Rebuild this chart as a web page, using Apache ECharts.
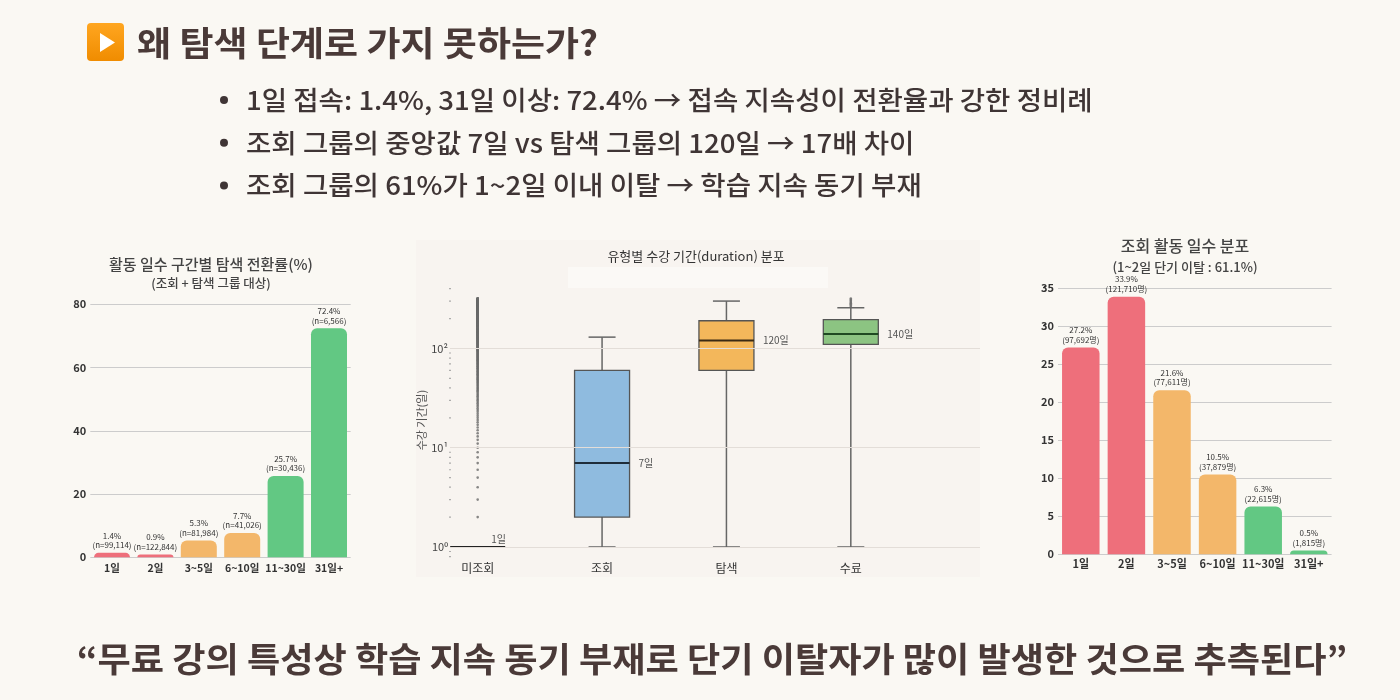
<!DOCTYPE html>
<html><head><meta charset="utf-8">
<script src="https://cdn.jsdelivr.net/npm/echarts@6/dist/echarts.min.js"></script>
<style>html,body{margin:0;padding:0;background:#faf8f3;}#c{width:1400px;height:700px;}</style>
</head><body><div id="c"></div>
<script>
const FONT = '"Noto Sans CJK KR","Noto Sans",sans-serif';

const headline = '왜 탐색 단계로 가지 못하는가?';
const bullets = [
  '1일 접속: 1.4%, 31일 이상: 72.4% → 접속 지속성이 전환율과 강한 정비례',
  '조회 그룹의 중앙값 7일 vs 탐색 그룹의 120일 → 17배 차이',
  '조회 그룹의 61%가 1~2일 이내 이탈 → 학습 지속 동기 부재'
];
const quote = '“무료 강의 특성상 학습 지속 동기 부재로 단기 이탈자가 많이 발생한 것으로 추측된다”';

// left chart
const leftTitle = '활동 일수 구간별 탐색 전환률(%)';
const leftSubtitle = '(조회 + 탐색 그룹 대상)';
const dayBins = ['1일', '2일', '3~5일', '6~10일', '11~30일', '31일+'];
const convRate = [1.4, 0.9, 5.3, 7.7, 25.7, 72.4];
const convN = ['99,114', '122,844', '81,984', '41,026', '30,436', '6,566'];

// right chart
const rightTitle = '조회 활동 일수 분포';
const rightSubtitle = '(1~2일 단기 이탈 : 61.1%)';
const viewShare = [27.2, 33.9, 21.6, 10.5, 6.3, 0.5];
const viewCount = ['97,692', '121,710', '77,611', '37,879', '22,615', '1,815'];

// middle chart
const midTitle = '유형별 수강 기간(duration) 분포';
const midYName = '수강 기간(일)';
const groups = ['미조회', '조회', '탐색', '수료'];
// [min, Q1, median, Q3, max]
const boxStats = [
  [1, 1, 1, 1, 1],
  [1, 2, 7, 60, 130],
  [1, 60, 120, 190, 300],
  [1, 110, 140, 195, 257]
];
const medianLabels = ['1일', '7일', '120일', '140일'];
const noViewOutliers = [
  2,3,4,5,6,7,8,9,10,11,12,13,14,15,16,17,18,19,20,
  21,22,23,24,25,26,27,28,29,30,31,32,33,34,35,36,37,38,39,40,
  41,42,43,44,45,46,47,48,49,50,51,52,53,54,55,56,57,58,59,60,
  61,62,63,64,65,66,67,68,69,70,71,72,73,74,75,76,77,78,79,80,
  81,82,83,84,85,86,87,88,89,90,91,92,93,94,95,96,97,98,99,100,
  101,102,103,104,105,106,107,108,109,110,111,112,113,114,115,116,117,118,119,120,
  121,122,123,124,125,126,127,128,129,130,131,132,133,134,135,136,137,138,139,140,
  141,142,143,144,145,146,147,148,149,150,151,152,153,154,155,156,157,158,159,160,
  161,162,163,164,165,166,167,168,169,170,171,172,173,174,175,176,177,178,179,180,
  181,182,183,184,185,186,187,188,189,190,191,192,193,194,195,196,197,198,199,200,
  201,202,203,204,205,206,207,208,209,210,211,212,213,214,215,216,217,218,219,220,
  221,222,223,224,225,226,227,228,229,230,231,232,233,234,235,236,237,238,239,240,
  241,242,243,244,245,246,247,248,249,250,251,252,253,254,255,256,257,258,259,260,
  261,262,263,264,265,266,267,268,269,270,271,272,273,274,275,276,277,278,279,280,
  281,282,283,284,285,286,287,288,289,290,291,292,293,294,295,296,297,298,299,300,
  301,302,303,304,305,306,307,308,309,310,311,312,313,314,315,316,317,318,319,320
];
const completeOutliers = [262, 270, 278, 286, 294, 302, 310, 318];
const minorLogTicks = [0.8, 0.9, 2, 3, 4, 5, 6, 7, 8, 9, 20, 30, 40, 50, 60, 70, 80, 90, 200, 300, 400];
const majorLogTicks = [1, 10, 100];

// styles
const binColors = ['#ee6f7b', '#ee6f7b', '#f3b76a', '#f3b76a', '#62c883', '#62c883'];
const boxFill = ['#ffffff', '#8fbbdf', '#f3b75b', '#8cc482'];
const medianColor = ['#222222', '#1f2d3a', '#3a2a14', '#1f4a22'];
const TXT = '#4a3a38';

const chart = echarts.init(document.getElementById('c'));

function barSeries(vals, labels, xi) {
  return {
    type: 'bar', xAxisIndex: xi, yAxisIndex: xi,
    data: vals.map((v, i) => ({ value: v, itemStyle: { color: binColors[i] } })),
    barWidth: xi === 0 ? 36 : 37.5,
    itemStyle: { borderRadius: [6, 6, 0, 0] },
    label: {
      show: true, position: 'top', distance: 3,
      formatter: p => '{a|' + vals[p.dataIndex] + '%}\n{a|' + (xi === 0 ? '(n=' + labels[p.dataIndex] + ')' : '(' + labels[p.dataIndex] + '명)') + '}',
      rich: { a: { fontSize: 8, lineHeight: 9.5, color: '#333', fontFamily: FONT, align: 'center' } }
    }
  };
}

function txt(text, x, y, font, fill, align, sx) {
  return { type: 'text', x: x, y: y, scaleX: sx || 1,
    style: { text: text, x: 0, y: 0, font: font, fill: fill, align: align, verticalAlign: 'middle' } };
}

const supMap = { '0': '⁰', '1': '¹', '2': '²', '3': '³' };

const option = {
  backgroundColor: '#faf8f3',
  textStyle: { fontFamily: FONT },
  animation: false,
  graphic: [
    { type: 'rect', shape: { x: 416, y: 240, width: 564, height: 337 }, style: { fill: '#f8f4f0' }, z: -10 },
    { type: 'rect', shape: { x: 568, y: 267, width: 260, height: 21 }, style: { fill: '#fbf9f6' }, z: -9 },
    { type: 'rect', shape: { x: 87, y: 23, width: 37, height: 38, r: 4 },
      style: { fill: new echarts.graphic.LinearGradient(0, 0, 0, 1, [{ offset: 0, color: '#ffa620' }, { offset: 1, color: '#f08c00' }]) } },
    { type: 'polygon', shape: { points: [[100, 33], [100, 52], [115, 42.5]] }, style: { fill: '#ffffff' } },
    txt(headline, 137, 43, 'bold 34px ' + FONT, TXT, 'left', 1.088),
    ...bullets.flatMap((b, i) => [
      { type: 'circle', shape: { cx: 224, cy: 100 + i * 42.8, r: 4 }, style: { fill: '#3f3535' } },
      txt(b, 246, 100 + i * 42.8, '500 26px ' + FONT, '#3f3535', 'left', 1.06)
    ]),
    txt(quote, 712, 659, 'bold 34px ' + FONT, TXT, 'center', 1.063),
    txt(leftTitle, 211, 264, '500 15px ' + FONT, '#444', 'center'),
    txt(leftSubtitle, 211, 283, '500 12.5px ' + FONT, '#444', 'center'),
    txt(rightTitle, 1185, 246, '500 16px ' + FONT, '#444', 'center'),
    txt(rightSubtitle, 1185, 267, '500 13px ' + FONT, '#444', 'center'),
    txt(midTitle, 696, 256, '13px ' + FONT, '#333', 'center')
  ],
  grid: [
    { left: 90.3, width: 260.4, top: 304.3, height: 253 },
    { left: 415.5, width: 497.5, top: 283.6, height: 273 },
    { left: 450, right: 420, top: 283.6, height: 273 },
    { left: 1058, width: 273.6, top: 288.3, height: 266 }
  ],
  xAxis: [
    { type: 'category', gridIndex: 0, data: dayBins, axisLine: { show: false }, axisTick: { show: false },
      axisLabel: { interval: 0, fontSize: 10.5, fontWeight: 'bold', color: '#333', margin: 5 } },
    { type: 'category', gridIndex: 1, data: groups, axisLine: { show: false }, axisTick: { show: false },
      axisLabel: { interval: 0, fontSize: 12, color: '#333', margin: 6 } },
    { type: 'value', gridIndex: 2, min: 0, max: 1, show: false },
    { type: 'category', gridIndex: 3, data: dayBins, axisLine: { show: false }, axisTick: { show: false },
      axisLabel: { interval: 0, fontSize: 11, fontWeight: 'bold', color: '#333', margin: 4 } }
  ],
  yAxis: [
    { type: 'value', gridIndex: 0, min: 0, max: 80, interval: 20, axisLine: { show: false }, axisTick: { show: false },
      axisLabel: { fontSize: 11, fontWeight: 'bold', color: '#333', margin: 4 },
      splitLine: { lineStyle: { color: '#cccccc', width: 1 } } },
    { type: 'log', logBase: 10, gridIndex: 1, min: 0.8, max: 450, show: false, splitLine: { show: false } },
    { type: 'log', logBase: 10, gridIndex: 2, min: 0.8, max: 450, axisLine: { show: false }, axisTick: { show: false },
      splitLine: { show: false },
      name: midYName, nameLocation: 'middle', nameGap: 20, nameRotate: 90,
      nameTextStyle: { fontSize: 11, color: '#555', fontFamily: FONT },
      axisLabel: { fontSize: 11, color: '#444', margin: 2,
        formatter: v => { const l = Math.log10(v); const e = Math.round(l); return Math.abs(l - e) < 1e-6 ? '10' + supMap[String(e)] : ''; } } },
    { type: 'value', gridIndex: 3, min: 0, max: 35, interval: 5, axisLine: { show: false }, axisTick: { show: false },
      axisLabel: { fontSize: 11, fontWeight: 'bold', color: '#333', margin: 4 },
      splitLine: { lineStyle: { color: '#cccccc', width: 1 } } }
  ],
  series: [
    barSeries(convRate, convN, 0),
    barSeries(viewShare, viewCount, 3),
    {
      type: 'scatter', xAxisIndex: 2, yAxisIndex: 2, clip: false, silent: true,
      data: minorLogTicks.map(v => [0, v]), symbol: 'rect', symbolSize: [2, 1.2],
      itemStyle: { color: '#9a9a9a' },
      markLine: { silent: true, symbol: 'none', label: { show: false },
        lineStyle: { color: '#e3ddd8', width: 1, type: 'solid' },
        data: majorLogTicks.map(v => ({ yAxis: v })) }
    },
    {
      type: 'scatter', xAxisIndex: 1, yAxisIndex: 1, clip: false, silent: true, z: 3,
      data: noViewOutliers.map(v => [0, v]).concat(completeOutliers.map(v => [3, v])),
      symbol: 'circle', symbolSize: 2.6, itemStyle: { color: '#6a6a6a' }
    },
    {
      type: 'custom', xAxisIndex: 1, yAxisIndex: 1, z: 4, clip: false,
      data: boxStats.map((s, i) => [i].concat(s)),
      renderItem: (params, api) => {
        const i = api.value(0);
        const cx = api.coord([i, api.value(3)])[0];
        const y = k => api.coord([i, api.value(k)])[1];
        const yMin = y(1), yQ1 = y(2), yMed = y(3), yQ3 = y(4), yMax = y(5);
        const bw = 55, cw = 27;
        const ws = { stroke: '#666', lineWidth: 1.5 };
        const ch = [
          { type: 'line', shape: { x1: cx, y1: yQ3, x2: cx, y2: yMax }, style: ws },
          { type: 'line', shape: { x1: cx, y1: yQ1, x2: cx, y2: yMin }, style: ws },
          { type: 'line', shape: { x1: cx - cw / 2, y1: yMax, x2: cx + cw / 2, y2: yMax }, style: ws },
          { type: 'line', shape: { x1: cx - cw / 2, y1: yMin, x2: cx + cw / 2, y2: yMin }, style: ws }
        ];
        if (Math.abs(yQ1 - yQ3) > 0.5) {
          ch.push({ type: 'rect', shape: { x: cx - bw / 2, y: yQ3, width: bw, height: yQ1 - yQ3 },
            style: { fill: boxFill[i], stroke: '#555', lineWidth: 1.3 } });
          ch.push({ type: 'text', style: { text: medianLabels[i], x: cx + bw / 2 + 9, y: yMed, font: '10px ' + FONT, fill: '#555', align: 'left', verticalAlign: 'middle' } });
        } else {
          ch.push({ type: 'text', style: { text: medianLabels[i], x: cx + 21, y: yMed - 8, font: '10px ' + FONT, fill: '#555', align: 'center', verticalAlign: 'middle' } });
        }
        ch.push({ type: 'line', shape: { x1: cx - bw / 2, y1: yMed, x2: cx + bw / 2, y2: yMed }, style: { stroke: medianColor[i], lineWidth: 2 } });
        return { type: 'group', children: ch };
      }
    }
  ]
};
chart.setOption(option);
</script>
</body></html>
